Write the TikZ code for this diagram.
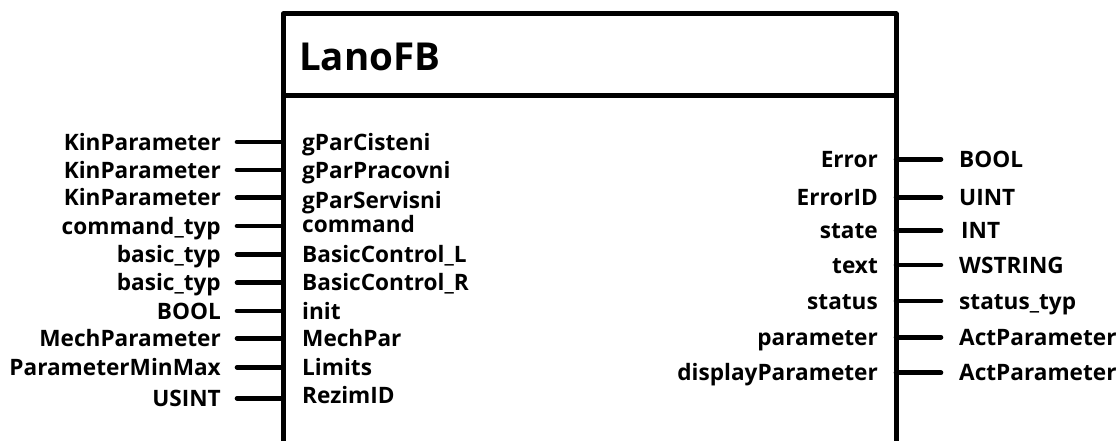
\documentclass[tikz,border=0pt]{standalone}
\usepackage{fontspec}
\setmainfont{Open Sans}
\usepackage{tikz}

\tikzset{
  fbline/.style={line width=5pt, line join=round},
  pin/.style={line width=4.6pt, line cap=round},
  lbl/.style={inner sep=0pt, font=\fontsize{22.6}{26}\selectfont\bfseries},
}

\begin{document}
\begin{tikzpicture}[x=1pt, y=-1pt]
\useasboundingbox (0, 0) rectangle (1118, 441);
% block outline, open at the bottom
\coordinate (boxbl) at (283, 441);
\coordinate (boxtl) at (283, 14);
\coordinate (boxtr) at (896, 14);
\coordinate (boxbr) at (896, 441);
\coordinate (divl) at (283, 95.5);
\coordinate (divr) at (896, 95.5);
\draw[fbline] (boxbl) -- (boxtl) -- (boxtr) -- (boxbr) ; % FB.frame
\draw[fbline] (divl) -- (divr) ; % FB.header
\node[inner sep=0pt, anchor=base west, font=\fontsize{38.5}{42}\selectfont\bfseries] (fbname) at (299, 70.5) {LanoFB}; % FB.name

% inputs
\coordinate (in1a) at (237, 142); \coordinate (in1b) at (283, 142);
\draw[pin] (in1a) -- (in1b) ; % in.1
\node[lbl, anchor=base east] (in1t) at (221, 150) {KinParameter}; % in.1
\node[lbl, anchor=base west] (in1n) at (302, 150) {gParCisteni}; % in.1
\coordinate (in2a) at (237, 170); \coordinate (in2b) at (283, 170);
\draw[pin] (in2a) -- (in2b) ; % in.2
\node[lbl, anchor=base east] (in2t) at (221, 178) {KinParameter}; % in.2
\node[lbl, anchor=base west] (in2n) at (302, 178) {gParPracovni}; % in.2
\coordinate (in3a) at (237, 197.7); \coordinate (in3b) at (283, 197.7);
\draw[pin] (in3a) -- (in3b) ; % in.3
\node[lbl, anchor=base east] (in3t) at (221, 205.7) {KinParameter}; % in.3
\node[lbl, anchor=base west] (in3n) at (302, 208) {gParServisni}; % in.3
\coordinate (in4a) at (237, 226); \coordinate (in4b) at (283, 226);
\draw[pin] (in4a) -- (in4b) ; % in.4
\node[lbl, anchor=base east] (in4t) at (221, 234) {command\_typ}; % in.4
\node[lbl, anchor=base west] (in4n) at (302, 232.5) {command}; % in.4
\coordinate (in5a) at (237, 254.3); \coordinate (in5b) at (283, 254.3);
\draw[pin] (in5a) -- (in5b) ; % in.5
\node[lbl, anchor=base east] (in5t) at (221, 262.3) {basic\_typ}; % in.5
\node[lbl, anchor=base west] (in5n) at (302, 262.3) {BasicControl\_L}; % in.5
\coordinate (in6a) at (237, 282.7); \coordinate (in6b) at (283, 282.7);
\draw[pin] (in6a) -- (in6b) ; % in.6
\node[lbl, anchor=base east] (in6t) at (221, 290.7) {basic\_typ}; % in.6
\node[lbl, anchor=base west] (in6n) at (302, 290.7) {BasicControl\_R}; % in.6
\coordinate (in7a) at (237, 311); \coordinate (in7b) at (283, 311);
\draw[pin] (in7a) -- (in7b) ; % in.7
\node[lbl, anchor=base east] (in7t) at (221, 319) {BOOL}; % in.7
\node[lbl, anchor=base west] (in7n) at (302, 319) {init}; % in.7
\coordinate (in8a) at (237, 338.3); \coordinate (in8b) at (283, 338.3);
\draw[pin] (in8a) -- (in8b) ; % in.8
\node[lbl, anchor=base east] (in8t) at (221, 346.3) {MechParameter}; % in.8
\node[lbl, anchor=base west] (in8n) at (302, 346.3) {MechPar}; % in.8
\coordinate (in9a) at (237, 367.3); \coordinate (in9b) at (283, 367.3);
\draw[pin] (in9a) -- (in9b) ; % in.9
\node[lbl, anchor=base east] (in9t) at (221, 375.3) {ParameterMinMax}; % in.9
\node[lbl, anchor=base west] (in9n) at (302, 375.3) {Limits}; % in.9
\coordinate (in10a) at (237, 398.3); \coordinate (in10b) at (283, 398.3);
\draw[pin] (in10a) -- (in10b) ; % in.10
\node[lbl, anchor=base east] (in10t) at (221, 406.3) {USINT}; % in.10
\node[lbl, anchor=base west] (in10n) at (302, 403.5) {RezimID}; % in.10

% outputs
\coordinate (out1a) at (896, 159.3); \coordinate (out1b) at (941, 159.3);
\draw[pin] (out1a) -- (out1b) ; % out.1
\node[lbl, anchor=base east] (out1n) at (878, 167.3) {Error}; % out.1
\node[lbl, anchor=base west] (out1t) at (959, 167.3) {BOOL}; % out.1
\coordinate (out2a) at (896, 197.3); \coordinate (out2b) at (941, 197.3);
\draw[pin] (out2a) -- (out2b) ; % out.2
\node[lbl, anchor=base east] (out2n) at (878, 205.3) {ErrorID}; % out.2
\node[lbl, anchor=base west] (out2t) at (959, 205.3) {UINT}; % out.2
\coordinate (out3a) at (896, 230.7); \coordinate (out3b) at (941, 230.7);
\draw[pin] (out3a) -- (out3b) ; % out.3
\node[lbl, anchor=base east] (out3n) at (878, 238.7) {state}; % out.3
\node[lbl, anchor=base west] (out3t) at (961, 238.7) {INT}; % out.3
\coordinate (out4a) at (896, 265); \coordinate (out4b) at (941, 265);
\draw[pin] (out4a) -- (out4b) ; % out.4
\node[lbl, anchor=base east] (out4n) at (878, 273) {text}; % out.4
\node[lbl, anchor=base west] (out4t) at (959, 273) {WSTRING}; % out.4
\coordinate (out5a) at (896, 301); \coordinate (out5b) at (941, 301);
\draw[pin] (out5a) -- (out5b) ; % out.5
\node[lbl, anchor=base east] (out5n) at (878, 309) {status}; % out.5
\node[lbl, anchor=base west] (out5t) at (959, 309) {status\_typ}; % out.5
\coordinate (out6a) at (896, 337.3); \coordinate (out6b) at (941, 337.3);
\draw[pin] (out6a) -- (out6b) ; % out.6
\node[lbl, anchor=base east] (out6n) at (878, 345.3) {parameter}; % out.6
\node[lbl, anchor=base west] (out6t) at (959, 345.3) {ActParameter}; % out.6
\coordinate (out7a) at (896, 372.7); \coordinate (out7b) at (941, 372.7);
\draw[pin] (out7a) -- (out7b) ; % out.7
\node[lbl, anchor=base east] (out7n) at (878, 380.7) {displayParameter}; % out.7
\node[lbl, anchor=base west] (out7t) at (959, 380.7) {ActParameter}; % out.7
\end{tikzpicture}
\end{document}
